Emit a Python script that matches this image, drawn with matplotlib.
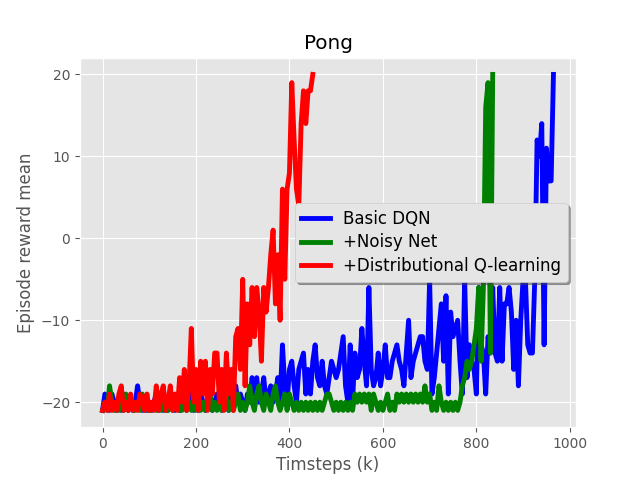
import numpy as np
import matplotlib
matplotlib.use("Agg")
import matplotlib.pyplot as plt

plt.style.use("ggplot")

# episode reward mean, one value every 5k timesteps
basic_dqn = [
    -21, -19, -20, -21, -19, -20, -21, -20, -21, -19,   # 0-45
    -20, -21, -20, -21, -20, -18, -20, -21, -20, -21,   # 50-95
    -20, -21, -20, -19, -21, -20, -21, -20, -21, -19,   # 100-145
    -20, -21, -20, -21, -19, -20, -21, -20, -19, -21,   # 150-195
    -20, -21, -19, -20, -21, -20, -19, -21, -20, -19,   # 200-245
    -20, -21, -19, -20, -21, -19, -20, -18, -20, -19,   # 250-295
    -20, -21, -19, -20, -17, -19, -17, -20, -19, -17,   # 300-345
    -20, -19, -18, -20, -19, -17, -20, -13, -18, -20,   # 350-395
    -16, -15, -18, -20, -16, -15, -14, -19, -16, -19,   # 400-445
    -15, -13, -17, -18, -15, -18, -19, -17, -15, -16,   # 450-495
    -17, -16, -14, -12, -18, -20, -13, -20, -14, -17,   # 500-545
    -16, -11, -15, -18, -6, -16, -18, -17, -14, -18,    # 550-595
    -16, -13, -17, -17, -15, -14, -13, -15, -16, -18,   # 600-645
    -14, -10, -17, -15, -14, -13, -12, -12, -15, -16,   # 650-695
    -5, -19, -17, -14, -11, -8, -15, -7, -19, -9,       # 700-745
    -12, -11, -10, -15, -19, -5, -17, -13, -15, -16,    # 750-795
    -19, -6, -13, -14, -19, -12, -14, -6, -14, -15,     # 800-845
    -6, -15, -8, -8, -6, -9, -16, -10, -18, -10,        # 850-895
    -5, -5, -13, -14, -14, -5, 12, 10, 14, -13,         # 900-945
    11, 7, 7, 20,                                       # 950-965
]

noisy_net = [
    -21, -20, -21, -18, -20, -21, -20, -21, -20, -21,   # 0-45
    -19, -21, -20, -21, -21, -20, -21, -19, -21, -20,   # 50-95
    -21, -21, -20, -21, -19, -21, -20, -21, -21, -20,   # 100-145
    -21, -20, -19, -21, -21, -20, -21, -20, -21, -20,   # 150-195
    -21, -19, -21, -20, -21, -20, -19, -21, -20, -21,   # 200-245
    -20, -21, -20, -19, -21, -20, -21, -20, -19, -21,   # 250-295
    -20, -21, -20, -18, -20, -21, -19, -18, -20, -21,   # 300-345
    -19, -20, -21, -19, -18, -20, -21, -20, -19, -21,   # 350-395
    -19, -20, -21, -20, -21, -20, -21, -20, -21, -20,   # 400-445
    -21, -20, -21, -20, -21, -20, -19, -19, -20, -21,   # 450-495
    -20, -21, -20, -21, -20, -21, -20, -21, -19, -20,   # 500-545
    -19, -20, -19, -20, -19, -21, -19, -20, -21, -20,   # 550-595
    -21, -20, -19, -21, -20, -21, -19, -20, -19, -20,   # 600-645
    -19, -20, -19, -20, -19, -20, -19, -20, -18, -20,   # 650-695
    -19, -21, -20, -21, -18, -20, -21, -20, -21, -20,   # 700-745
    -21, -20, -21, -20, -18, -17, -15, -16, -15, -13,   # 750-795
    -11, -6, -15, -6, 16, 19, -14, 20,                  # 800-835
]

distributional = [
    -21, -20, -21, -19, -21, -20, -21, -19, -18, -21,   # 0-45
    -20, -21, -19, -21, -20, -21, -19, -20, -21, -19,   # 50-95
    -21, -20, -21, -18, -21, -19, -18, -21, -20, -18,   # 100-145
    -21, -19, -21, -17, -20, -16, -21, -18, -11, -20,   # 150-195
    -16, -21, -15, -19, -15, -21, -16, -19, -14, -14,   # 200-245
    -20, -16, -21, -14, -19, -16, -21, -12, -11, -16,   # 250-295
    -5, -18, -8, -13, -6, -12, -6, -9, -15, -6,         # 300-345
    -9, -6, -2, 1, -8, -2, -10, 6, -5, 6,               # 350-395
    8, 19, 12, 6, 4, 14, 18, 14, 18, 18,                # 400-445
    20,                                                 # 450
]

step_k = 5
labels = ["Basic DQN", "+Noisy Net", "+Distributional Q-learning"]
colors = ["blue", "green", "red"]

fig, ax = plt.subplots(figsize=(6.4, 4.8), dpi=100)
for series, label, color in zip([basic_dqn, noisy_net, distributional], labels, colors):
    x = np.arange(len(series)) * step_k
    ax.plot(x, series, color=color, linewidth=3.5, label=label)

ax.set_title("Pong")
ax.set_xlabel("Timsteps (k)")
ax.set_ylabel("Episode reward mean")
ax.set_yticks([-20, -10, 0, 10, 20])
ax.legend(loc="center right", shadow=True, fontsize=12,
          labelspacing=0.35, handlelength=1.7)

fig.savefig("out.png", dpi=100)
